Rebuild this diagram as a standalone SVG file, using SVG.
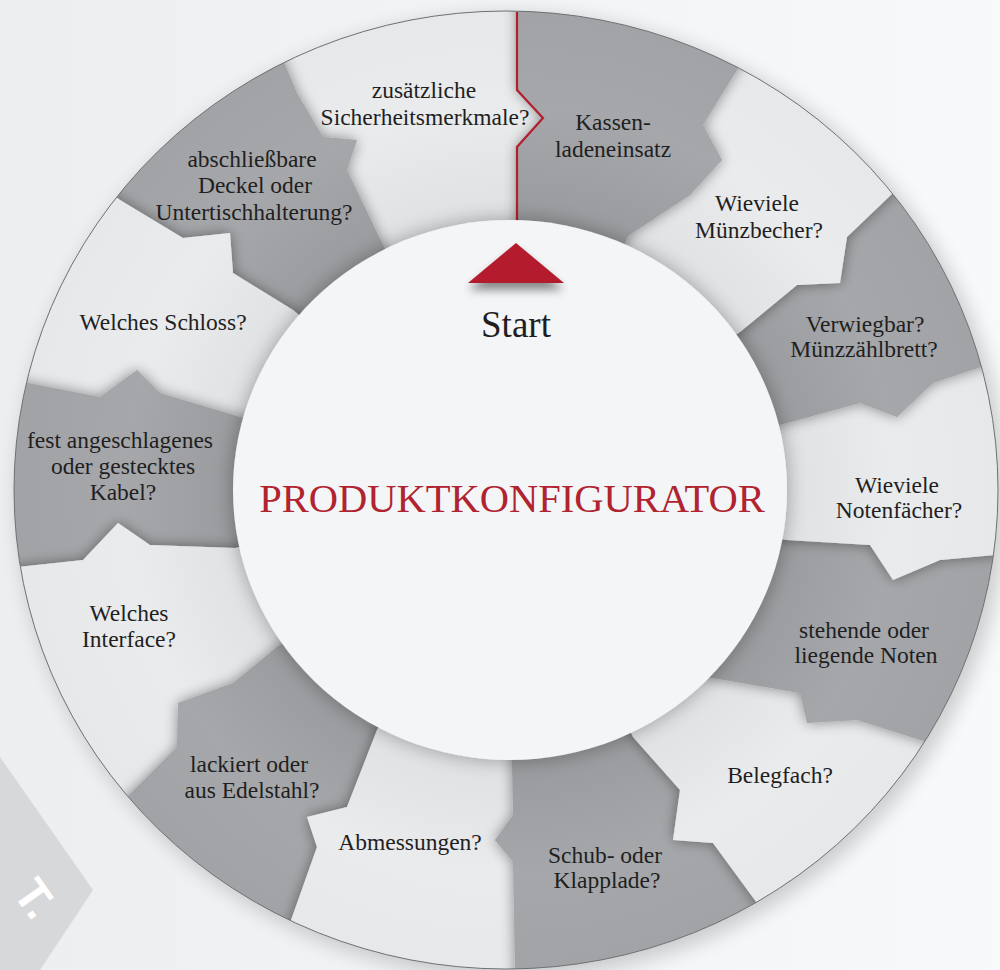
<svg xmlns="http://www.w3.org/2000/svg" width="1000" height="970" viewBox="0 0 1000 970">
<defs>
<style>
.dk{fill:url(#gdk)}
.lt{fill:url(#glt)}
.seg{filter:url(#sh)}
.lbl{font-size:23.5px;fill:#1f1f1f;text-anchor:middle}
</style>
<linearGradient id="bg" x1="0" y1="0" x2="1" y2="0"><stop offset="0" stop-color="#eceef0"/><stop offset="1" stop-color="#f8f9fa"/></linearGradient>
<radialGradient id="gdk" gradientUnits="userSpaceOnUse" cx="510" cy="490" r="480"><stop offset="0.55" stop-color="#999a9d"/><stop offset="0.8" stop-color="#a6a7aa"/><stop offset="1" stop-color="#a2a3a6"/></radialGradient>
<radialGradient id="glt" gradientUnits="userSpaceOnUse" cx="510" cy="490" r="480"><stop offset="0.55" stop-color="#dfe0e2"/><stop offset="0.8" stop-color="#eaebed"/><stop offset="1" stop-color="#e7e8ea"/></radialGradient>
<clipPath id="ringclip"><ellipse cx="506" cy="490" rx="492" ry="479"/></clipPath>
<filter id="sh" x="-20%" y="-20%" width="140%" height="140%">
<feGaussianBlur in="SourceAlpha" stdDeviation="7"/>
<feComponentTransfer><feFuncA type="linear" slope="0.42"/></feComponentTransfer>
<feMerge><feMergeNode/><feMergeNode in="SourceGraphic"/></feMerge>
</filter>
<filter id="csh" x="-20%" y="-20%" width="140%" height="140%">
<feGaussianBlur in="SourceAlpha" stdDeviation="10"/>
<feComponentTransfer><feFuncA type="linear" slope="0.32"/></feComponentTransfer>
<feMerge><feMergeNode/><feMergeNode in="SourceGraphic"/></feMerge>
</filter>
<filter id="osh" x="-20%" y="-20%" width="140%" height="140%">
<feGaussianBlur stdDeviation="10"/>
</filter>
<filter id="tsh" x="-50%" y="-50%" width="200%" height="200%">
<feGaussianBlur in="SourceAlpha" stdDeviation="5"/>
<feOffset dy="7"/>
<feComponentTransfer><feFuncA type="linear" slope="0.45"/></feComponentTransfer>
<feMerge><feMergeNode/><feMergeNode in="SourceGraphic"/></feMerge>
</filter>
</defs>

<rect x="0" y="0" width="1000" height="970" fill="url(#bg)"/>

<g id="banner">
<polygon points="0,757 93,890 40,970 0,970" fill="#d7d8d9"/>
<text x="12" y="893" transform="rotate(55 12 893)" font-family="Liberation Sans, Arial, sans-serif" font-weight="bold" font-size="46" fill="#ffffff">T.</text>
</g>

<ellipse cx="512" cy="496" rx="494" ry="481" fill="#000" opacity="0.18" filter="url(#osh)"/>
<ellipse cx="506" cy="490" rx="492" ry="479" fill="#e9eaec"/>

<g id="ring" clip-path="url(#ringclip)" font-family="Liberation Serif, Times New Roman, serif">
<g id="seg14">
<polygon class="lt seg" points="184,-134 283,60 297,93 323,137 357,140 347,170 383,245 510,490 517,218 517,147 543,118 517,90 517,-200 336,-189"/>
<text class="lbl" x="424" y="98">zusätzliche</text>
<text class="lbl" x="425" y="125">Sicherheitsmerkmale?</text>
</g>
<g id="seg13">
<polygon class="dk seg" points="-60,64 120,200 183,238 230,233 233,273 293,310 510,490 383,245 347,170 357,140 323,137 297,93 283,60 184,-134 48,-46"/>
<text class="lbl" x="252" y="167">abschließbare</text>
<text class="lbl" x="255" y="193">Deckel oder</text>
<text class="lbl" x="254" y="220">Untertischhalterung?</text>
</g>
<g id="seg12">
<polygon class="lt seg" points="-191,334 28,383 100,397 137,370 160,393 240,417 510,490 293,310 233,273 230,233 183,238 120,200 -60,64 -141,194"/>
<text class="lbl" x="163" y="330">Welches Schloss?</text>
</g>
<g id="seg11">
<polygon class="dk seg" points="-200,602 18,567 83,560 118,523 150,545 235,548 510,490 240,417 160,393 137,370 100,397 28,383 -191,334 -208,466"/>
<text class="lbl" x="120" y="448">fest angeschlagenes</text>
<text class="lbl" x="123" y="474">oder gestecktes</text>
<text class="lbl" x="123" y="500">Kabel?</text>
</g>
<g id="seg10">
<polygon class="lt seg" points="-44,936 127,797 177,747 178,703 233,683 277,647 510,490 235,548 150,545 118,523 83,560 18,567 -200,602 -145,779"/>
<text class="lbl" x="129" y="621">Welches</text>
<text class="lbl" x="129" y="647">Interface?</text>
</g>
<g id="seg9">
<polygon class="dk seg" points="195,1119 290,923 317,847 307,817 347,807 377,730 510,490 277,647 233,683 178,703 177,747 127,797 -44,936 67,1042"/>
<text class="lbl" x="249" y="772">lackiert oder</text>
<text class="lbl" x="252" y="798">aus Edelstahl?</text>
</g>
<g id="seg8">
<polygon class="lt seg" points="510,1190 515,968 513,862 495,840 513,815 512,760 510,490 377,730 347,807 307,817 317,847 290,923 195,1119 348,1172"/>
<text class="lbl" x="410" y="850">Abmessungen?</text>
</g>
<g id="seg7">
<polygon class="dk seg" points="874,1093 757,903 713,843 673,840 680,790 633,737 510,490 512,760 513,815 495,840 513,862 515,968 510,1190 696,1166"/>
<text class="lbl" x="605" y="863">Schub- oder</text>
<text class="lbl" x="607" y="888">Klapplade?</text>
</g>
<g id="seg6">
<polygon class="lt seg" points="1122,857 930,743 857,720 807,723 800,693 707,677 510,490 633,737 680,790 673,840 713,843 757,903 874,1093 1013,990"/>
<text class="lbl" x="780" y="783">Belegfach?</text>
</g>
<g id="seg5">
<polygon class="dk seg" points="1221,592 995,555 940,560 893,580 870,545 787,540 510,490 707,677 800,693 807,723 857,720 930,743 1122,857 1186,729"/>
<text class="lbl" x="864" y="638">stehende oder</text>
<text class="lbl" x="866" y="663">liegende Noten</text>
</g>
<g id="seg4">
<polygon class="lt seg" points="1204,307 993,363 933,383 897,417 860,403 787,423 510,490 787,540 870,545 893,580 940,560 995,555 1221,592 1227,448"/>
<text class="lbl" x="897" y="493">Wieviele</text>
<text class="lbl" x="899" y="518">Notenfächer?</text>
</g>
<g id="seg3">
<polygon class="dk seg" points="1074,55 893,193 847,237 840,283 797,285 740,332 510,490 787,423 860,403 897,417 933,383 993,363 1204,307 1151,172"/>
<text class="lbl" x="865" y="332">Verwiegbar?</text>
<text class="lbl" x="864" y="357">Münzzählbrett?</text>
</g>
<g id="seg2">
<polygon class="lt seg" points="847,-128 742,62 703,125 722,160 690,195 628,236 510,490 740,332 797,285 840,283 847,237 893,193 1074,55 972,-46"/>
<text class="lbl" x="757" y="211">Wieviele</text>
<text class="lbl" x="759" y="238">Münzbecher?</text>
</g>
<g id="seg1">
<polygon class="dk seg" points="517,-200 517,90 543,118 517,147 517,218 510,490 628,236 690,195 722,160 703,125 742,62 847,-128 684,-189"/>
<text class="lbl" x="613" y="130">Kassen-</text>
<text class="lbl" x="613" y="157">ladeneinsatz</text>
</g>
</g>
<ellipse cx="506" cy="490" rx="492" ry="479" fill="none" stroke="#6f7073" stroke-width="1"/>

<g id="connectors">
<polyline points="517,12 517,90 543,118 517,147 517,222" fill="none" stroke="#b41f2d" stroke-width="2.2"/>
</g>

<g id="center" font-family="Liberation Serif, Times New Roman, serif">
<ellipse cx="510" cy="490" rx="277" ry="270" fill="#f3f5f7" filter="url(#csh)"/>
<polygon points="516,243 468,283 564,283" fill="#b41f2d" filter="url(#tsh)"/>
<text x="516" y="337" font-size="37" fill="#1f1f1f" text-anchor="middle">Start</text>
<text x="512" y="512" font-size="40.5" fill="#b0232f" text-anchor="middle">PRODUKTKONFIGURATOR</text>
</g>
</svg>
